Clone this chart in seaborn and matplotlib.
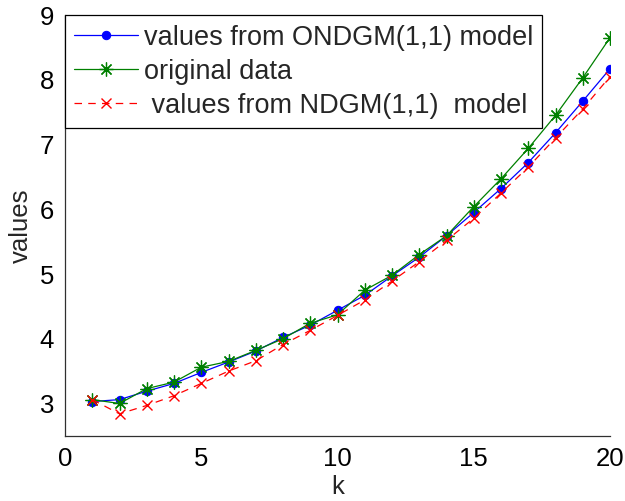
import matplotlib
matplotlib.use("Agg")
import matplotlib.pyplot as plt
import seaborn as sns
import pandas as pd

k = list(range(1, 21))
ondgm = [3.03, 3.06, 3.19, 3.31, 3.48, 3.64, 3.81, 4.02, 4.21, 4.44,
         4.67, 4.97, 5.26, 5.59, 5.95, 6.32, 6.72, 7.18, 7.67, 8.17]
original = [3.06, 3.00, 3.23, 3.33, 3.56, 3.65, 3.82, 4.00, 4.24, 4.37,
            4.75, 4.98, 5.30, 5.59, 6.04, 6.47, 6.94, 7.45, 8.03, 8.65]
ndgm = [3.06, 2.84, 2.97, 3.12, 3.31, 3.50, 3.66, 3.91, 4.13, 4.36,
        4.60, 4.89, 5.19, 5.52, 5.86, 6.25, 6.65, 7.10, 7.55, 8.05]

labels = ["values from ONDGM(1,1) model", "original data", " values from NDGM(1,1)  model"]

sns.set_style("white")
plt.rcParams['font.family'] = ['Liberation Sans', 'DejaVu Sans']

fig = plt.figure(figsize=(6.25, 5.01), dpi=100)
ax = fig.add_axes([0.104, 0.130, 0.872, 0.840])

df = pd.DataFrame({"k": k, "ondgm": ondgm, "original": original, "ndgm": ndgm})

sns.lineplot(data=df, x="k", y="ondgm", ax=ax, color="#0000FF", lw=0.9,
             marker="o", markersize=6, markeredgecolor="#0000FF", label=labels[0])
sns.lineplot(data=df, x="k", y="original", ax=ax, color="#008000", lw=0.9,
             marker=(8, 2, 0), markersize=10, markeredgecolor="#008000", markeredgewidth=0.9,
             label=labels[1])
sns.lineplot(data=df, x="k", y="ndgm", ax=ax, color="#FF0000", lw=0.9,
             marker="x", markersize=7, markeredgecolor="#FF0000", markeredgewidth=1.0,
             label=labels[2])
ax.lines[2].set_dashes([6, 5])

ax.set_xlim(0, 20)
ax.set_ylim(2.5, 9)
ax.set_xticks([0, 5, 10, 15, 20])
ax.set_yticks([3, 4, 5, 6, 7, 8, 9])
ax.tick_params(direction="in", length=5, width=0.8, labelsize=18.5, colors="black", pad=8)
for s in ["top", "right"]:
    ax.spines[s].set_visible(False)
for s in ["left", "bottom"]:
    ax.spines[s].set_color("#303030")
    ax.spines[s].set_linewidth(0.9)

ax.set_xlabel("k", fontsize=18.5, labelpad=3)
ax.set_ylabel("values", fontsize=18.5, labelpad=5)

leg = ax.legend(loc="upper left", bbox_to_anchor=(0.0, 1.0), fontsize=19.5, frameon=True,
                fancybox=False, edgecolor="black", framealpha=1, borderaxespad=0,
                handlelength=2.35, handletextpad=0.2, labelspacing=0.3, borderpad=0.35)
leg.get_frame().set_linewidth(0.9)

fig.savefig("out.png", dpi=100)
